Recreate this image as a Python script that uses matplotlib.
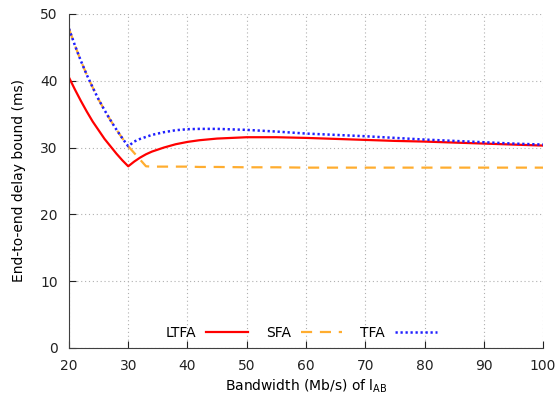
import matplotlib
matplotlib.use("Agg")
import matplotlib.pyplot as plt

bandwidth = [20, 21, 22, 23, 24, 25, 26, 27, 28, 29, 30, 31, 32, 33, 34, 36, 38, 40, 42,
             45, 50, 55, 60, 65, 70, 75, 80, 85, 90, 95, 100]
ltfa = [40.5, 38.7, 37.0, 35.4, 33.9, 32.6, 31.3, 30.2, 29.1, 28.1, 27.2, 27.9, 28.5,
        29.0, 29.4, 30.0, 30.5, 30.85, 31.1, 31.35, 31.55, 31.55, 31.45, 31.3, 31.15,
        31.0, 30.9, 30.75, 30.6, 30.45, 30.3]
sfa = [47.8, 45.3, 43.0, 40.9, 39.0, 37.2, 35.6, 34.1, 32.7, 31.4, 30.2, 29.2, 28.2,
       27.2, 27.15, 27.15, 27.15, 27.15, 27.1, 27.1, 27.05, 27.05, 27.0, 27.0, 27.0,
       27.0, 27.0, 27.0, 27.0, 27.0, 27.0]
tfa = [47.8, 45.3, 43.0, 40.9, 39.0, 37.2, 35.6, 34.1, 32.7, 31.4, 30.2, 30.9, 31.3,
       31.6, 31.9, 32.3, 32.6, 32.75, 32.8, 32.8, 32.65, 32.4, 32.1, 31.9, 31.7, 31.45,
       31.2, 31.0, 30.8, 30.6, 30.45]

xticks = [20, 30, 40, 50, 60, 70, 80, 90, 100]
yticks = [0, 10, 20, 30, 40, 50]

plt.rcParams['font.family'] = ['DejaVu Sans']
fig = plt.figure(figsize=(5.59, 4.03), dpi=100)
ax = fig.add_axes([0.1234, 0.1365, 0.848, 0.8288])

ax.plot(bandwidth, ltfa, color='#ff0000', lw=1.6, label='LTFA')
ax.plot(bandwidth, sfa, color='#ffad2f', lw=1.6, dashes=(5, 3.5), label='SFA')
ax.plot(bandwidth, tfa, color='#1f1fff', lw=1.8, dashes=(0.9, 1.1), label='TFA')

ax.set_xlim(20, 100)
ax.set_ylim(0, 50)
ax.set_xticks(xticks)
ax.set_yticks(yticks)
ax.tick_params(direction='in', length=5, labelsize=10, colors='#222222', pad=8)
ax.grid(True, color='#b0b0b0', linestyle=(0, (1, 2.5)), lw=0.8)
for s in ['top', 'right']:
    ax.spines[s].set_visible(False)
for s in ['left', 'bottom']:
    ax.spines[s].set_color('#404040')

ax.set_xlabel(r'Bandwidth (Mb/s) of l$_{\mathrm{AB}}$', fontsize=10, labelpad=3)
ax.set_ylabel('End-to-end delay bound (ms)', fontsize=10, labelpad=10)

leg = ax.legend(loc='center', ncol=3, markerfirst=False, frameon=False,
                fontsize=10, handlelength=3.0, handletextpad=0.7, columnspacing=1.3,
                bbox_to_anchor=(0.49, 0.045), borderpad=0.0)

fig.savefig('out.png', dpi=100)
